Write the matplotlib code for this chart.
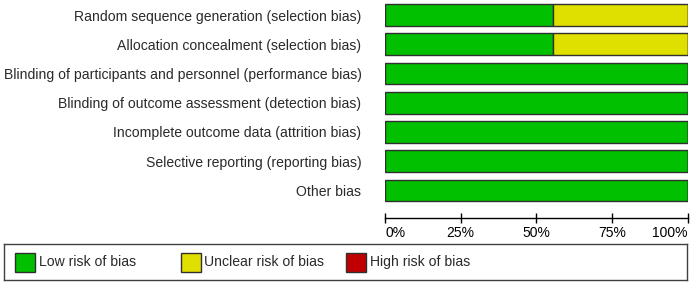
import matplotlib.pyplot as plt
from matplotlib.patches import Rectangle

plt.rcParams["font.family"] = ["Liberation Sans", "DejaVu Sans"]

domains = [
    "Random sequence generation (selection bias)",
    "Allocation concealment (selection bias)",
    "Blinding of participants and personnel (performance bias)",
    "Blinding of outcome assessment (detection bias)",
    "Incomplete outcome data (attrition bias)",
    "Selective reporting (reporting bias)",
    "Other bias",
]
low_risk = [55.6, 55.6, 100, 100, 100, 100, 100]
unclear_risk = [44.4, 44.4, 0, 0, 0, 0, 0]
high_risk = [0, 0, 0, 0, 0, 0, 0]

ticks = [0, 25, 50, 75, 100]
tick_labels = ["0%", "25%", "50%", "75%", "100%"]

legend_labels = ["Low risk of bias", "Unclear risk of bias", "High risk of bias"]
colors = ["#00c000", "#e0e000", "#c00000"]

fig = plt.figure(figsize=(6.93, 2.84), dpi=100)
ax = fig.add_axes([385 / 693, 1 - 205.1 / 284, 302.5 / 693, 204.7 / 284])

ypos = list(range(len(domains)))
left = [0] * len(domains)
for vals, c in zip([low_risk, unclear_risk, high_risk], colors):
    ax.barh(ypos, vals, left=left, height=0.75, color=c,
            edgecolor="#303030", linewidth=1.0)
    left = [a + b for a, b in zip(left, vals)]

ax.set_xlim(0, 100)
ax.set_ylim(6.5, -0.5)
ax.set_yticks(ypos)
ax.set_yticklabels(domains, fontsize=10.1, color="#2a2a2a")
ax.tick_params(axis="y", length=0, pad=17)
ax.set_xticks(ticks)
ax.set_xticklabels(tick_labels, fontsize=10.1, color="#2a2a2a")
ax.tick_params(axis="x", direction="inout", length=7, width=1, pad=2.5)
for s in ["top", "right", "left"]:
    ax.spines[s].set_visible(False)
ax.spines["bottom"].set_position(("outward", 9))
ax.spines["bottom"].set_linewidth(1)

# legend box
lax = fig.add_axes([4 / 693, 1 - 280 / 284, 683 / 693, 36 / 284])
lax.set_xlim(0, 683)
lax.set_ylim(0, 36)
lax.set_xticks([])
lax.set_yticks([])
for s in lax.spines.values():
    s.set_linewidth(1)
    s.set_color("#404040")
for i, (lab, c) in enumerate(zip(legend_labels, colors)):
    x0 = 11 + i * 165.5
    lax.add_patch(Rectangle((x0, 8.5), 20, 19, facecolor=c,
                            edgecolor="#303030", linewidth=1))
    lax.text(x0 + 24, 18, lab, fontsize=10.1, va="center", ha="left",
             color="#2a2a2a")

# first / last tick labels sit inside the axis ends
fig.canvas.draw()
xl = ax.xaxis.get_majorticklabels()
xl[0].set_horizontalalignment("left")
xl[-1].set_horizontalalignment("right")

fig.savefig("out.png", dpi=100)
